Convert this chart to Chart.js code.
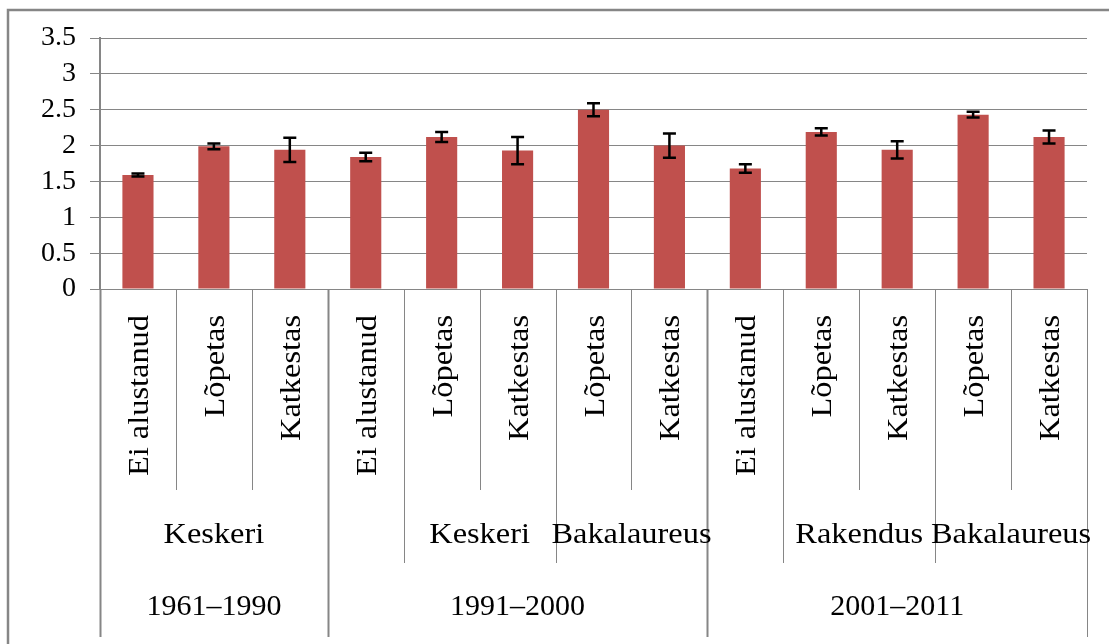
<!DOCTYPE html>
<html>
<head>
<meta charset="utf-8">
<script src="https://cdn.jsdelivr.net/npm/chart.js@4"></script>
<style>
  html, body { margin: 0; padding: 0; background: #fff; }
  #chart { position: absolute; left: 0; top: 0; }
</style>
</head>
<body>
<canvas id="chart" width="1109" height="644"></canvas>
<script>
// categories, innermost level first
const level1Labels = ['Ei alustanud', 'Lõpetas', 'Katkestas', 'Ei alustanud', 'Lõpetas', 'Katkestas',
    'Lõpetas', 'Katkestas', 'Ei alustanud', 'Lõpetas', 'Katkestas', 'Lõpetas', 'Katkestas'];
const level2Labels = ['Keskeri', '', 'Keskeri', 'Bakalaureus', '', 'Rakendus', 'Bakalaureus'];
const level2Spans = [3, 1, 2, 2, 1, 2, 2];
const level3Labels = ['1961–1990', '1991–2000', '2001–2011'];
const level3Spans = [3, 5, 5];

// series
const means = [1.59, 1.99, 1.94, 1.84, 2.12, 1.93, 2.50, 2.00, 1.68, 2.19, 1.94, 2.43, 2.12];
const errors = [0.02, 0.04, 0.17, 0.06, 0.07, 0.19, 0.09, 0.17, 0.06, 0.05, 0.12, 0.04, 0.09];

// y axis
const yTickValues = [0, 0.5, 1, 1.5, 2, 2.5, 3, 3.5];
const yTickLabels = ['0', '0.5', '1', '1.5', '2', '2.5', '3', '3.5'];

const LINE = '#868686';
const FONT = '"Liberation Serif", "Times New Roman", serif';

// draws text stretched along its own direction
function stretchedText(ctx, text, x, y, sx, rotate) {
    ctx.save();
    ctx.translate(x, y);
    if (rotate) ctx.rotate(-Math.PI / 2);
    ctx.scale(sx, 1);
    ctx.fillText(text, 0, 0);
    ctx.restore();
}

const errorBars = {
    id: 'errorBars',
    afterDatasetsDraw(chart) {
        const ctx = chart.ctx;
        const y = chart.scales.y;
        const meta = chart.getDatasetMeta(0);
        ctx.save();
        ctx.strokeStyle = '#000';
        ctx.lineWidth = 2.5;
        meta.data.forEach((bar, i) => {
            const top = y.getPixelForValue(means[i] + errors[i]);
            const bot = y.getPixelForValue(means[i] - errors[i]);
            ctx.beginPath();
            ctx.moveTo(bar.x, top);
            ctx.lineTo(bar.x, bot);
            ctx.moveTo(bar.x - 6.5, top);
            ctx.lineTo(bar.x + 6.5, top);
            ctx.moveTo(bar.x - 6.5, bot);
            ctx.lineTo(bar.x + 6.5, bot);
            ctx.stroke();
        });
        ctx.restore();
    }
};

const multiLevelAxis = {
    id: 'multiLevelAxis',
    afterDraw(chart) {
        const ctx = chart.ctx;
        const x = chart.scales.x;
        const area = chart.chartArea;
        const n = level1Labels.length;
        const step = x.getPixelForValue(1) - x.getPixelForValue(0);
        const edge = i => x.getPixelForValue(0) - step / 2 + i * step;

        // which boundaries reach which depth
        const l2Edges = new Set([0]);
        let acc = 0;
        level2Spans.forEach(s => { acc += s; l2Edges.add(acc); });
        const l3Edges = new Set([0]);
        acc = 0;
        level3Spans.forEach(s => { acc += s; l3Edges.add(acc); });

        ctx.save();
        ctx.strokeStyle = LINE;
        for (let i = 0; i <= n; i++) {
            let bottom = 490;
            if (l3Edges.has(i)) bottom = 637;
            else if (l2Edges.has(i)) bottom = 563;
            const px = Math.round(edge(i)) + 0.5;
            ctx.lineWidth = l3Edges.has(i) && i < n ? 2 : 1;
            ctx.beginPath();
            ctx.moveTo(px, area.bottom);
            ctx.lineTo(px, bottom);
            ctx.stroke();
        }

        ctx.fillStyle = '#000';
        ctx.font = '30px ' + FONT;

        // innermost labels, vertical
        ctx.textAlign = 'right';
        ctx.textBaseline = 'alphabetic';
        level1Labels.forEach((lab, i) => {
            stretchedText(ctx, lab, x.getPixelForValue(i) + 10, 315, 1.08, true);
        });

        // middle level
        ctx.textAlign = 'center';
        acc = 0;
        level2Labels.forEach((lab, g) => {
            const cx = (edge(acc) + edge(acc + level2Spans[g])) / 2;
            acc += level2Spans[g];
            if (lab) stretchedText(ctx, lab, cx, 543, 1.08, false);
        });

        // outer level
        acc = 0;
        level3Labels.forEach((lab, g) => {
            const cx = (edge(acc) + edge(acc + level3Spans[g])) / 2;
            acc += level3Spans[g];
            stretchedText(ctx, lab, cx, 615, 1.0, false);
        });

        // frame around the whole chart (cut off at right and bottom)
        ctx.strokeStyle = LINE;
        ctx.lineWidth = 2.5;
        ctx.strokeRect(8, 10, 1200, 700);
        ctx.restore();
    }
};

const ctx = document.getElementById('chart').getContext('2d');
new Chart(ctx, {
    type: 'bar',
    data: {
        labels: level1Labels,
        datasets: [{
            data: means,
            backgroundColor: '#C0504D',
            barPercentage: 0.41,
            categoryPercentage: 1
        }]
    },
    options: {
        responsive: false,
        animation: false,
        layout: { padding: { top: 38, right: 22, left: 0, bottom: 0 } },
        plugins: {
            legend: { display: false },
            tooltip: { enabled: false }
        },
        scales: {
            x: {
                grid: { display: false },
                border: { display: false },
                ticks: { display: false },
                afterFit(scale) { scale.height = 644 - 289; }
            },
            y: {
                min: 0,
                max: 3.5,
                afterBuildTicks(scale) {
                    scale.ticks = yTickValues.map(v => ({ value: v }));
                },
                ticks: {
                    autoSkip: false,
                    padding: 14,
                    color: '#000',
                    font: { family: FONT, size: 28 },
                    callback: (v, i) => yTickLabels[i]
                },
                grid: { color: LINE, lineWidth: 1, tickLength: 10 },
                border: { color: LINE, width: 2 },
                afterFit(scale) { scale.width = 100; }
            }
        }
    },
    plugins: [errorBars, multiLevelAxis]
});
</script>
</body>
</html>
